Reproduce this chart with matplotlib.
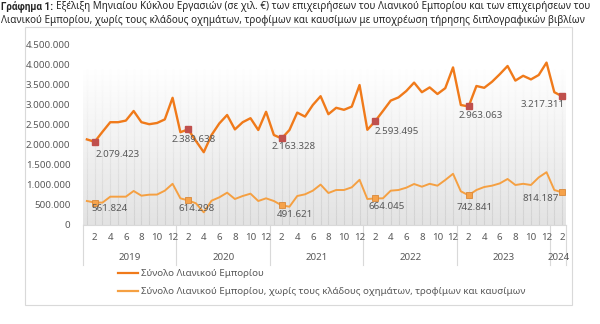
import matplotlib
matplotlib.use("Agg")
import matplotlib.pyplot as plt
import numpy as np
from matplotlib.collections import LineCollection
from matplotlib.patches import Rectangle
from matplotlib.lines import Line2D

plt.rcParams['font.family'] = ['Noto Sans', 'DejaVu Sans']

# ---------------------------------------------------
#  Data (thousand euro), Jan 2019 .. Feb 2024
# ---------------------------------------------------
years = ["2019", "2020", "2021", "2022", "2023", "2024"]
months_per_year = [12, 12, 12, 12, 12, 2]

total_retail = [
    2140000, 2079423, 2330000, 2570000, 2570000, 2610000, 2850000, 2570000, 2520000, 2550000, 2640000, 3180000,
    2320000, 2389638, 2100000, 1820000, 2250000, 2540000, 2750000, 2390000, 2570000, 2670000, 2375000, 2830000,
    2250000, 2163328, 2375000, 2810000, 2710000, 3000000, 3220000, 2770000, 2930000, 2880000, 2960000, 3500000,
    2380000, 2593495, 2850000, 3110000, 3190000, 3350000, 3560000, 3320000, 3440000, 3275000, 3420000, 3940000,
    3000000, 2963063, 3475000, 3430000, 3580000, 3770000, 3975000, 3610000, 3730000, 3640000, 3750000, 4060000,
    3320000, 3217311,
]
retail_ex = [
    600000, 561824, 560000, 708000, 708000, 708000, 850000, 733000, 758000, 761000, 858000, 1030000,
    667000, 614298, 542000, 317000, 608000, 692000, 808000, 650000, 725000, 783000, 600000, 667000,
    600000, 491621, 458000, 725000, 767000, 858000, 1010000, 800000, 875000, 875000, 942000, 1130000,
    650000, 664045, 667000, 858000, 875000, 933000, 1025000, 958000, 1030000, 983000, 1125000, 1280000,
    842000, 742841, 875000, 950000, 983000, 1040000, 1150000, 1000000, 1030000, 1000000, 1190000, 1320000,
    875000, 814187,
]
label_names = ["Σύνολο Λιανικού Εμπορίου",
               "Σύνολο Λιανικού Εμπορίου, χωρίς τους κλάδους οχημάτων, τροφίμων και καυσίμων"]
title_bold = "Γράφημα 1:"
title_rest = ("Εξέλιξη Μηνιαίου Κύκλου Εργασιών (σε χιλ. €) των επιχειρήσεων του "
              "Λιανικού Εμπορίου και των επιχειρήσεων του")
title_line2 = ("Λιανικού Εμπορίου, χωρίς τους κλάδους οχημάτων, τροφίμων και καυσίμων "
               "με υποχρέωση τήρησης διπλογραφικών βιβλίων")

# labelled points: every February
marked = [1, 13, 25, 37, 49, 61]
top_offsets = [(23, -13), (6, -10), (12, -8), (22, -10), (12, -9), (-19, -8)]
low_offsets = [(15, -6), (8, -8), (13, -9), (12, -8), (6, -12), (-21, -6)]

def fmt(v):
    return f"{v:,}".replace(",", ".")

# ---------------------------------------------------
#  Figure
# ---------------------------------------------------
W, H = 600, 324
fig = plt.figure(figsize=(6, 3.24), dpi=100)
fig.patch.set_facecolor("white")

def fx(px):
    return px / W

def fy(py):
    return 1 - py / H

ax = fig.add_axes([fx(83), fy(225), fx(566) - fx(83), (225 - 45) / H])
n = len(total_retail)
x = np.arange(n)

# soft gray background with month drop lines
grad = np.linspace(0.89, 1.0, 100).reshape(-1, 1)
top_bg = 3900000
ax.imshow(np.dstack([grad, grad, grad]), extent=[-0.5, n - 0.5, 0, top_bg],
          aspect="auto", origin="lower", zorder=0, interpolation="bilinear")
segs, cols = [], []
steps = 30
for i in x:
    for k in range(steps):
        y0 = top_bg * k / steps
        y1 = top_bg * (k + 1) / steps
        segs.append([(i, y0), (i, y1)])
        c = 0.82 + 0.18 * k / steps
        cols.append((c, c, c))
ax.add_collection(LineCollection(segs, colors=cols, linewidths=0.8, zorder=1))

ax.plot(x, total_retail, color="#F07A1A", lw=1.7, zorder=3)
ax.plot(x, retail_ex, color="#F5A042", lw=1.4, zorder=3)
ax.plot([x[i] for i in marked], [total_retail[i] for i in marked], ls="none",
        marker="s", ms=5, color="#C0504D", zorder=4)
ax.plot([x[i] for i in marked], [retail_ex[i] for i in marked], ls="none",
        marker="s", ms=5, mfc="#F6A24A", mec="#D9893A", mew=0.6, zorder=4)

for i, off in zip(marked, top_offsets):
    ax.annotate(fmt(total_retail[i]), (x[i], total_retail[i]), xytext=off,
                textcoords="offset pixels", ha="center", va="center",
                fontsize=7, color="#595959", zorder=5)
for i, off in zip(marked, low_offsets):
    ax.annotate(fmt(retail_ex[i]), (x[i], retail_ex[i]), xytext=off,
                textcoords="offset pixels", ha="center", va="center",
                fontsize=7, color="#595959", zorder=5)

ax.set_xlim(-0.5, n - 0.5)
ax.set_ylim(0, 4500000)
ax.set_yticks(np.arange(0, 4500001, 500000))
ax.set_yticklabels([fmt(int(v)) for v in np.arange(0, 4500001, 500000)],
                   fontsize=7, color="#595959")
ax.tick_params(axis="y", length=0, pad=9)
ax.set_xticks([])
for s in ["top", "right", "left"]:
    ax.spines[s].set_visible(False)
ax.spines["bottom"].set_color("#d9d9d9")

# two-level category axis
pos = 0
bounds = [0]
for yr, m in zip(years, months_per_year):
    for k in range(m):
        if (k + 1) % 2 == 0:
            ax.text(pos + k, -0.067, str(k + 1), transform=ax.get_xaxis_transform(),
                    ha="center", va="center", fontsize=7, color="#595959")
    ax.text(pos + (m - 1) / 2, -0.178, yr, transform=ax.get_xaxis_transform(),
            ha="center", va="center", fontsize=7, color="#595959")
    pos += m
    bounds.append(pos)
for b in bounds:
    ax.plot([b - 0.5, b - 0.5], [0, -0.22], transform=ax.get_xaxis_transform(),
            color="#d9d9d9", lw=0.8, clip_on=False)

# chart frame
fig.patches.append(Rectangle((fx(25), fy(305)), fx(572) - fx(25), fy(27) - fy(305),
                             transform=fig.transFigure, fill=False,
                             edgecolor="#d9d9d9", lw=0.8))

# legend
for yy, col, name in zip([273, 291], ["#F07A1A", "#F5A042"], label_names):
    fig.lines.append(Line2D([fx(118), fx(138)], [fy(yy), fy(yy)],
                            transform=fig.transFigure, color=col, lw=1.6))
    fig.text(fx(141), fy(yy), name, fontsize=7, color="#595959", va="center")

# title, squeezed to the reference width
r = fig.canvas.get_renderer()
tsize = 7.0
tb = fig.text(fx(1), fy(7), title_bold, fontsize=tsize, color="#262626", va="center",
              family=["Roboto", "DejaVu Sans"], fontweight="bold")
bw = tb.get_window_extent(r).width
tr = fig.text(fx(1) + (bw + 3) / W, fy(7), title_rest, fontsize=tsize, color="#262626",
              va="center")
rw = tr.get_window_extent(r).width
scale = (589 - 1) / (bw + 3 + rw)
tsize = tsize * scale
tb.set_fontsize(tsize)
tr.set_fontsize(tsize)
bw = tb.get_window_extent(r).width
tr.set_x(fx(1) + (bw + 3) / W)
fig.text(fx(1), fy(21), title_line2, fontsize=tsize, color="#262626", va="center")

fig.savefig("out.png", dpi=100)
